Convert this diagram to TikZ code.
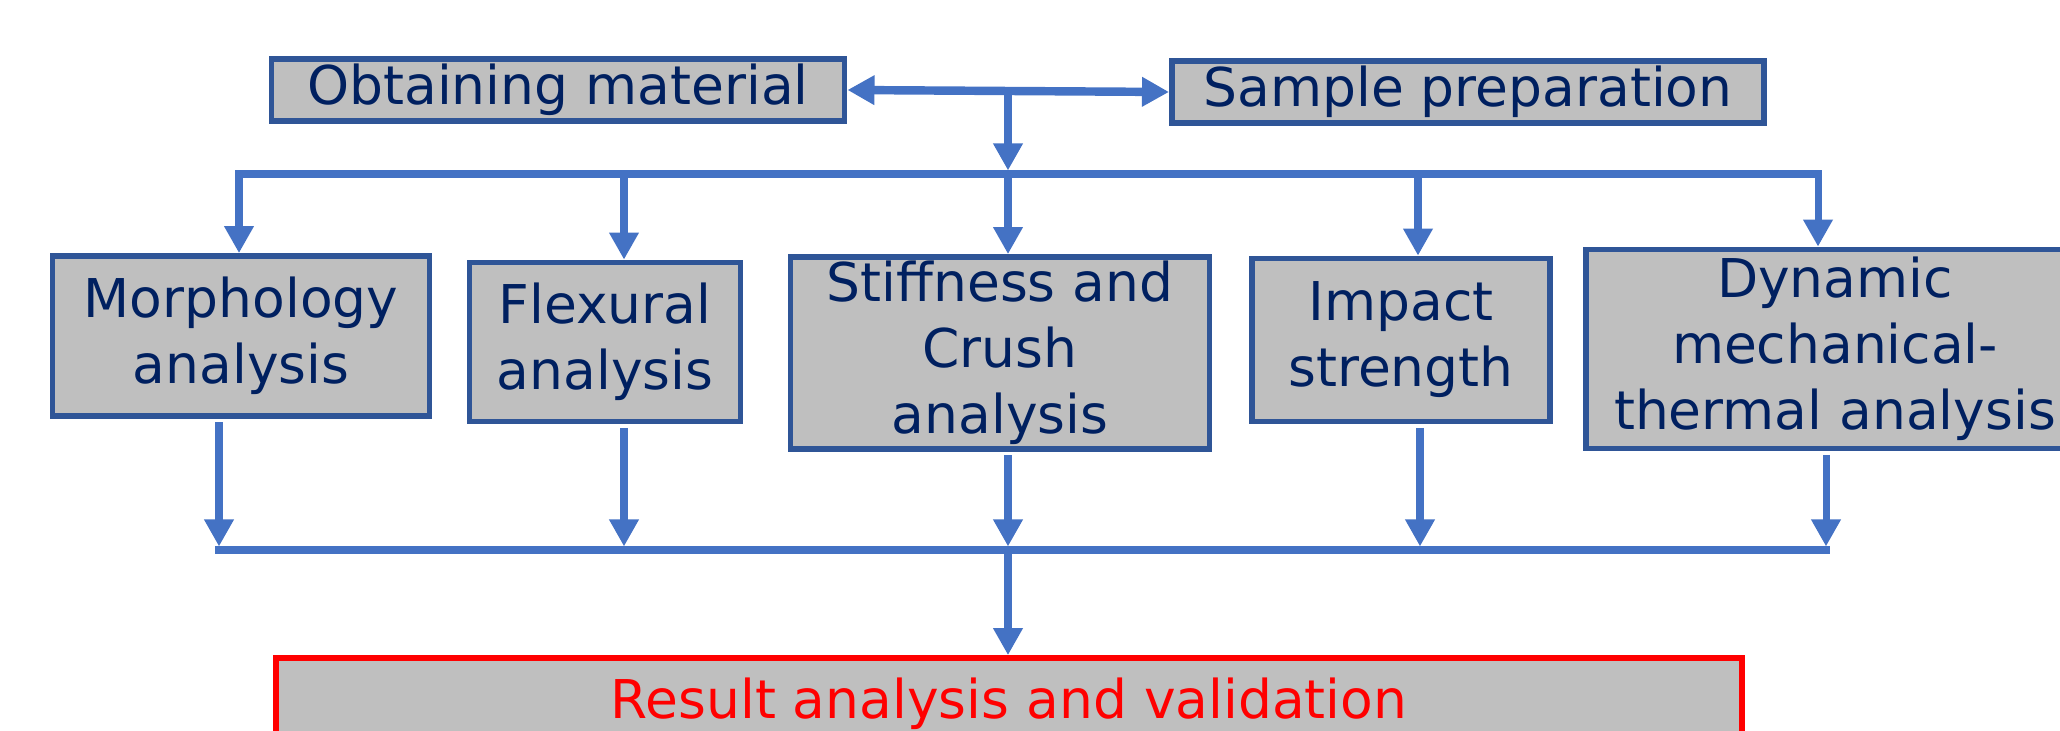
\documentclass[tikz,border=0pt]{standalone}
\usepackage{fontspec}
\setmainfont{DejaVu Sans}
\usetikzlibrary{arrows.meta,positioning}
\definecolor{boxblue}{RGB}{47,85,151}
\definecolor{textnavy}{RGB}{0,32,96}
\definecolor{flowblue}{RGB}{68,114,196}
\definecolor{boxgray}{RGB}{191,191,191}

\begin{document}
\begin{tikzpicture}[%
    x=0.01cm, y=-0.01cm,        % one unit per pixel, y runs downwards
    >={Triangle[length=0.27cm, width=0.28cm]},
    font=\fontsize{15.2}{18.8}\selectfont,
    ]

\tikzset{
  base/.style={draw=boxblue, line width=1.6pt, fill=boxgray, text=textnavy, align=center, inner sep=0pt},
  task/.style={base, minimum height=0.62cm},
  stage/.style={base},
  final/.style={base, draw=red, line width=1.6pt, text=red},
  % -------------------------------------------------
  % connector styles
  flow/.style={->, draw=flowblue, line width=2pt},
  bus/.style={draw=flowblue, line width=2.2pt, line cap=rect},
}

  \useasboundingbox (0,0) rectangle (2060,731);

  % preparation
  \node[task, minimum width=5.73cm] (obtain) at (558,90) {Obtaining material};
  \node[task, minimum width=5.92cm] (sample) at (1468,92) {Sample preparation};

  % tests
  \node[stage, minimum width=3.77cm, minimum height=1.60cm] (morph) at (241,336) {Morphology\\analysis};
  \node[stage, minimum width=2.71cm, minimum height=1.59cm] (flex) at (605,342) {Flexural\\analysis};
  \node[stage, minimum width=4.19cm, minimum height=1.92cm] (stiff) at (1000,353) {Stiffness and\\Crush\\analysis};
  \node[stage, minimum width=2.98cm, minimum height=1.63cm] (impact) at (1401,340) {Impact\\strength};
  \node[stage, minimum width=4.98cm, minimum height=1.99cm] (dma) at (1835,349) {Dynamic\\mechanical-\\thermal analysis};

  % outcome
  \node[final, minimum width=14.65cm, minimum height=0.92cm] (result) at (1009,704) {Result analysis and validation};

  % branch points on the two buses
  \coordinate (split) at (1008,89);
  \coordinate (top1) at (239,174);
  \coordinate (top2) at (624,174);
  \coordinate (topc) at (1008,174);
  \coordinate (top4) at (1418,174);
  \coordinate (top5) at (1818,174);
  \coordinate (bot1) at (219,550);
  \coordinate (bot2) at (624,550);
  \coordinate (botc) at (1008,550);
  \coordinate (bot4) at (1420,550);
  \coordinate (bot5) at (1826,550);

  \draw[flow, <->, line width=2.4pt] (obtain.east) -- (sample.west);
  \draw[flow, shorten >=1pt] (split) -- (topc);

  \draw[bus] (top1) -- (top5);
  \foreach \c/\tgt in {top1/morph,top2/flex,topc/stiff,top4/impact,top5/dma}
    \draw[flow] (\c) -- (\c |- \tgt.north);

  \foreach \c/\src in {bot1/morph,bot2/flex,botc/stiff,bot4/impact,bot5/dma}
    \draw[flow, shorten <=1pt, shorten >=1pt] (\c |- \src.south) -- (\c);
  \draw[bus] (bot1) -- (bot5);

  \draw[flow] (botc) -- (botc |- result.north);
\end{tikzpicture}
\end{document}
